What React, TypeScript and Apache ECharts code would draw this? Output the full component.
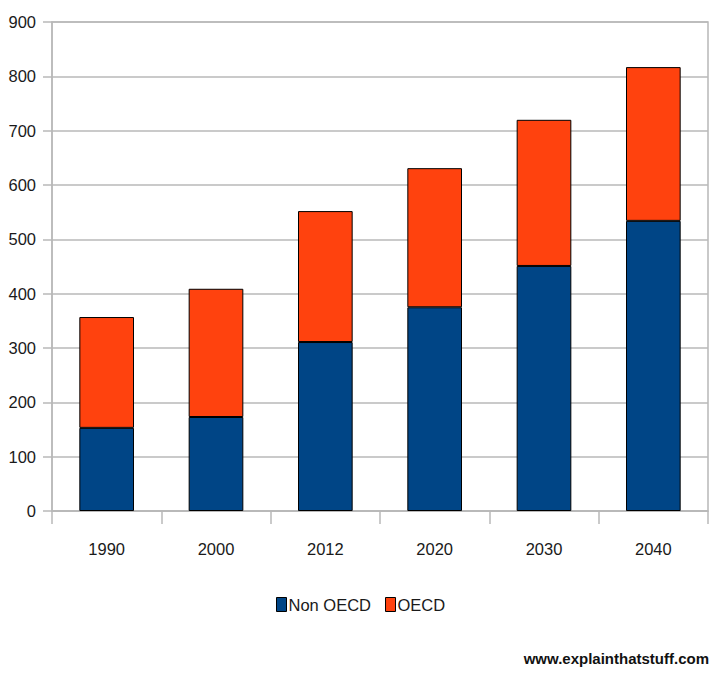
import React, { useEffect, useRef } from "react";
import * as echarts from "echarts";

const categories = ["1990", "2000", "2012", "2020", "2030", "2040"];
const nonOecd = [153, 173, 311, 375, 451, 534];
const oecd = [204, 236, 241, 256, 269, 283];
const seriesNames = ["Non OECD", "OECD"];
const yTicks = { min: 0, max: 900, interval: 100 };

const FONT = "'Liberation Sans', Arial, sans-serif";
const GRAY = "#b8b8b8";

export default function App() {
  const ref = useRef<HTMLDivElement>(null);
  useEffect(() => {
    if (!ref.current) return;
    const chart = echarts.init(ref.current, null, { renderer: "svg" });
    chart.setOption({
      animation: false,
      backgroundColor: "#ffffff",
      textStyle: { fontFamily: FONT },
      grid: {
        left: 52,
        right: 3,
        top: 22,
        bottom: 164,
        containLabel: false,
        show: true,
        borderColor: GRAY,
        borderWidth: 1.5,
      },
      legend: {
        data: seriesNames,
        left: 271,
        top: 591,
        icon: "rect",
        itemWidth: 10,
        itemHeight: 14,
        itemGap: 14,
        itemStyle: { borderColor: "#000", borderWidth: 1 },
        textStyle: { fontFamily: FONT, fontSize: 16.5, color: "#1a1a1a", padding: [0, 0, 0, -3] },
      },
      xAxis: {
        type: "category",
        data: categories,
        axisLine: { lineStyle: { color: GRAY, width: 1.5 } },
        axisTick: { show: true, length: 13, lineStyle: { color: GRAY, width: 1.5 } },
        axisLabel: { fontFamily: FONT, fontSize: 16.5, color: "#1a1a1a", margin: 29 },
      },
      yAxis: {
        type: "value",
        min: yTicks.min,
        max: yTicks.max,
        interval: yTicks.interval,
        axisLine: { show: true, lineStyle: { color: GRAY, width: 1.5 } },
        axisTick: { show: true, length: 9, lineStyle: { color: GRAY, width: 1.5 } },
        splitLine: { lineStyle: { color: GRAY, width: 1.5 } },
        axisLabel: { fontFamily: FONT, fontSize: 16.5, color: "#1a1a1a", margin: 16 },
      },
      series: [
        {
          name: seriesNames[0],
          type: "bar",
          stack: "total",
          barWidth: "50%",
          data: nonOecd,
          itemStyle: { color: "#004586", borderColor: "#000", borderWidth: 1 },
        },
        {
          name: seriesNames[1],
          type: "bar",
          stack: "total",
          barWidth: "50%",
          data: oecd,
          itemStyle: { color: "#ff420e", borderColor: "#000", borderWidth: 1 },
        },
      ],
      graphic: [
        {
          type: "text",
          right: 2,
          top: 651,
          style: {
            text: "www.explainthatstuff.com",
            font: "bold 15px " + FONT,
            fill: "#111",
          },
        },
      ],
    });
    return () => chart.dispose();
  }, []);
  return (
    <div
      ref={ref}
      style={{ position: "fixed", left: 0, top: 0, width: 711, height: 675 }}
    />
  );
}
